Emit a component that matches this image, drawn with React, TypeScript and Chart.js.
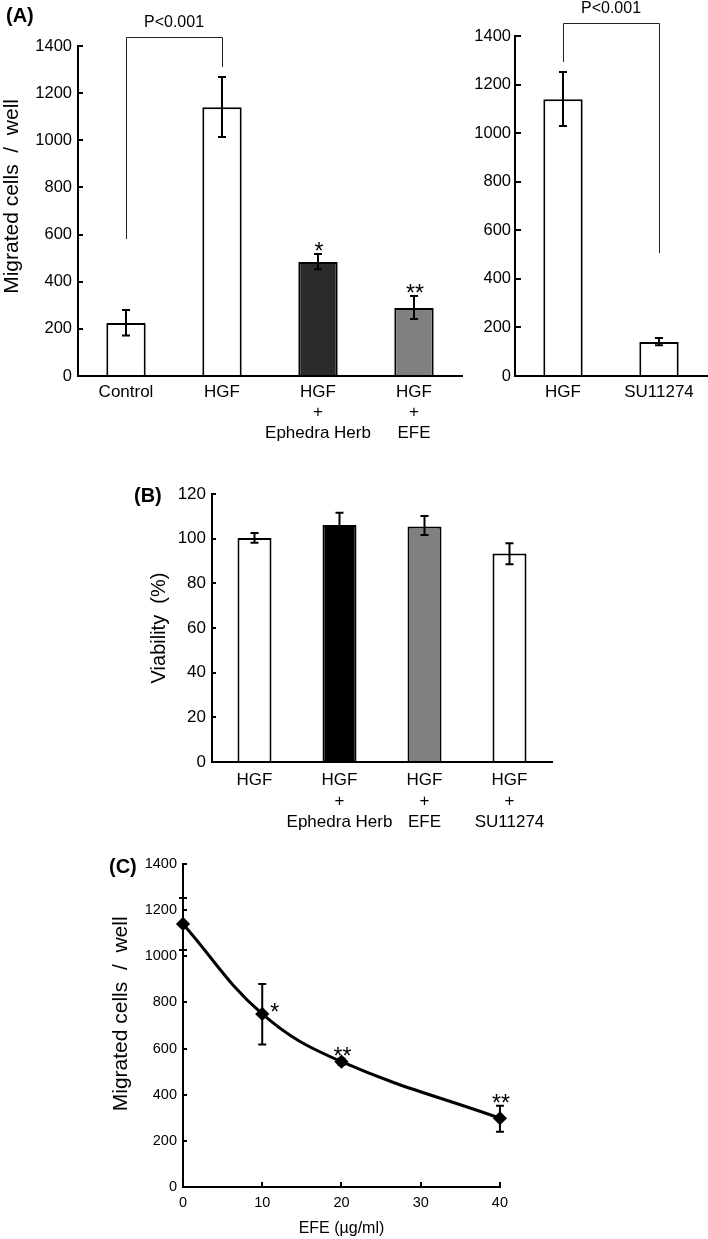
import React, { useEffect, useRef } from 'react';
import { Chart, registerables } from 'chart.js';

Chart.register(...registerables);

const FONT = '"Liberation Sans", Arial, Helvetica, sans-serif';
Chart.defaults.font.family = FONT;
Chart.defaults.color = '#000';

// ---------- Panel A (left): migration ----------
const migrationLabels = [['Control'], ['HGF'], ['HGF', '+', 'Ephedra Herb'], ['HGF', '+', 'EFE']];
const migrationValues = [225, 1140, 484, 288];
const migrationLow = [172, 1014, 453, 242];
const migrationHigh = [280, 1268, 518, 339];
const migrationColors = ['#ffffff', '#ffffff', '#2b2b2b', '#808080'];
const migrationStars = ['', '', '*', '**'];
const migrationBracket = { from: 0, to: 1, fromEnd: 581, toEnd: 1311, top: 1438, label: 'P<0.001' };

// ---------- Panel A (right): inhibitor ----------
const inhibitorLabels = ['HGF', 'SU11274'];
const inhibitorValues = [1140, 140];
const inhibitorLow = [1029, 127];
const inhibitorHigh = [1252, 156];
const inhibitorBracket = { from: 0, to: 1, fromEnd: 1293, toEnd: 506, top: 1453, label: 'P<0.001' };

const migrationMax = 1400;
const migrationStep = 200;

// ---------- Panel B: viability ----------
const viabilityLabels = [['HGF'], ['HGF', '+', 'Ephedra Herb'], ['HGF', '+', 'EFE'], ['HGF', '+', 'SU11274']];
const viabilityValues = [100.3, 106.1, 105.4, 93.4];
const viabilityLow = [98.2, 100.6, 101.6, 88.5];
const viabilityHigh = [102.5, 111.6, 110.1, 98.0];
const viabilityColors = ['#ffffff', '#000000', '#808080', '#ffffff'];
const viabilityMax = 120;
const viabilityStep = 20;

// ---------- Panel C: dose response ----------
const efeDoses = [0, 10, 20, 40];
const doseValues = [1140, 750, 543, 298];
const doseLow = [1027, 618, 530, 240];
const doseHigh = [1253, 880, 556, 352];
const doseStars = ['', '*', '**', '**'];
const doseStarSide = ['top', 'right', 'top', 'top'];
const doseMax = 40;
const doseStep = 10;

const plain = (v: any) => String(v);

function errorBarPlugin(capHalf: number, lineWidth: number) {
  return {
    id: 'errorBars',
    afterDatasetsDraw(chart: any) {
      const ctx = chart.ctx;
      chart.data.datasets.forEach((ds: any, di: number) => {
        if (!ds.errLow) return;
        const meta = chart.getDatasetMeta(di);
        const ys = chart.scales[meta.yAxisID];
        ctx.save();
        ctx.strokeStyle = '#000';
        ctx.lineWidth = lineWidth;
        meta.data.forEach((el: any, i: number) => {
          const x = el.x;
          const hi = ys.getPixelForValue(ds.errHigh[i]);
          const lo = ys.getPixelForValue(ds.errLow[i]);
          ctx.beginPath();
          ctx.moveTo(x, hi);
          ctx.lineTo(x, lo);
          ctx.moveTo(x - capHalf, hi);
          ctx.lineTo(x + capHalf, hi);
          ctx.moveTo(x - capHalf, lo);
          ctx.lineTo(x + capHalf, lo);
          ctx.stroke();
        });
        ctx.restore();
      });
    },
  };
}

function starPlugin(fontSize: number) {
  return {
    id: 'stars',
    afterDatasetsDraw(chart: any) {
      const ctx = chart.ctx;
      chart.data.datasets.forEach((ds: any, di: number) => {
        if (!ds.stars) return;
        const meta = chart.getDatasetMeta(di);
        const ys = chart.scales[meta.yAxisID];
        ctx.save();
        ctx.fillStyle = '#000';
        ctx.font = `${fontSize}px ${FONT}`;
        ctx.textBaseline = 'alphabetic';
        meta.data.forEach((el: any, i: number) => {
          const s = ds.stars[i];
          if (!s) return;
          const side = ds.starSide ? ds.starSide[i] : 'top';
          if (side === 'right') {
            ctx.textAlign = 'left';
            ctx.fillText(s, el.x + 8, el.y + 6);
          } else {
            ctx.textAlign = 'center';
            ctx.fillText(s, el.x + 1, ys.getPixelForValue(ds.errHigh[i]) + 5);
          }
        });
        ctx.restore();
      });
    },
  };
}

function bracketPlugin(b: any) {
  return {
    id: 'bracket',
    afterDraw(chart: any) {
      const ctx = chart.ctx;
      const xs = chart.scales.x;
      const ys = chart.scales.y;
      const x1 = xs.getPixelForValue(b.from);
      const x2 = xs.getPixelForValue(b.to);
      const yTop = ys.getPixelForValue(b.top);
      const y1 = ys.getPixelForValue(b.fromEnd);
      const y2 = ys.getPixelForValue(b.toEnd);
      ctx.save();
      ctx.strokeStyle = '#222';
      ctx.lineWidth = 1;
      ctx.beginPath();
      ctx.moveTo(Math.round(x1) + 0.5, y1);
      ctx.lineTo(Math.round(x1) + 0.5, Math.round(yTop) + 0.5);
      ctx.lineTo(Math.round(x2) + 0.5, Math.round(yTop) + 0.5);
      ctx.lineTo(Math.round(x2) + 0.5, y2);
      ctx.stroke();
      ctx.fillStyle = '#000';
      ctx.font = `16px ${FONT}`;
      ctx.textAlign = 'center';
      ctx.textBaseline = 'alphabetic';
      ctx.fillText(b.label, (x1 + x2) / 2, yTop - 10);
      ctx.restore();
    },
  };
}

const axisBorder = { display: true, color: '#000', width: 2 };
const inwardGrid = (len: number) => ({
  display: true,
  drawOnChartArea: false,
  drawTicks: true,
  tickLength: -len,
  color: '#000',
  lineWidth: 2,
});
const noGrid = { display: false, drawTicks: false };

function buildMigrationLeft(): any {
  return {
    type: 'bar',
    data: {
      labels: migrationLabels,
      datasets: [
        {
          data: migrationValues,
          backgroundColor: migrationColors,
          borderColor: '#000',
          borderWidth: 2,
          barPercentage: 0.41,
          categoryPercentage: 1,
          errLow: migrationLow,
          errHigh: migrationHigh,
          stars: migrationStars,
        },
      ],
    },
    options: {
      responsive: false,
      animation: false,
      layout: { padding: { left: 0, top: 46, right: 8, bottom: 0 } },
      plugins: { legend: { display: false }, tooltip: { enabled: false } },
      scales: {
        x: {
          grid: noGrid,
          border: axisBorder,
          ticks: { font: { size: 17, lineHeight: 1.2 }, color: '#000', padding: 6, maxRotation: 0, minRotation: 0, autoSkip: false },
          afterFit: (s: any) => { s.height = 69; },
        },
        y: {
          min: 0,
          max: migrationMax,
          ticks: { stepSize: migrationStep, font: { size: 16.5 }, color: '#000', padding: 11, callback: plain },
          grid: inwardGrid(5),
          border: axisBorder,
          title: { display: true, text: '     Migrated cells  /  well', font: { size: 21 }, color: '#000', padding: { top: 0, bottom: 0 } },
          afterFit: (s: any) => { s.width = 78; },
        },
      },
    },
    plugins: [errorBarPlugin(4, 2), starPlugin(23), bracketPlugin(migrationBracket)],
  };
}

function buildMigrationRight(): any {
  return {
    type: 'bar',
    data: {
      labels: inhibitorLabels,
      datasets: [
        {
          data: inhibitorValues,
          backgroundColor: '#ffffff',
          borderColor: '#000',
          borderWidth: 2,
          barPercentage: 0.41,
          categoryPercentage: 1,
          errLow: inhibitorLow,
          errHigh: inhibitorHigh,
        },
      ],
    },
    options: {
      responsive: false,
      animation: false,
      layout: { padding: { left: 0, top: 36, right: 1, bottom: 0 } },
      plugins: { legend: { display: false }, tooltip: { enabled: false } },
      scales: {
        x: {
          grid: noGrid,
          border: axisBorder,
          ticks: { font: { size: 17, lineHeight: 1.2 }, color: '#000', padding: 6, maxRotation: 0, minRotation: 0, autoSkip: false },
          afterFit: (s: any) => { s.height = 69; },
        },
        y: {
          min: 0,
          max: migrationMax,
          ticks: { stepSize: migrationStep, font: { size: 16.5 }, color: '#000', padding: 10, callback: plain },
          grid: inwardGrid(6),
          border: axisBorder,
          afterFit: (s: any) => { s.width = 45; },
        },
      },
    },
    plugins: [errorBarPlugin(4, 2), bracketPlugin(inhibitorBracket)],
  };
}

function buildViability(): any {
  return {
    type: 'bar',
    data: {
      labels: viabilityLabels,
      datasets: [
        {
          data: viabilityValues,
          backgroundColor: viabilityColors,
          borderColor: '#000',
          borderWidth: 2,
          barPercentage: 0.4,
          categoryPercentage: 1,
          errLow: viabilityLow,
          errHigh: viabilityHigh,
        },
      ],
    },
    options: {
      responsive: false,
      animation: false,
      layout: { padding: { left: 147, top: 34, right: 8, bottom: 0 } },
      plugins: { legend: { display: false }, tooltip: { enabled: false } },
      scales: {
        x: {
          grid: noGrid,
          border: axisBorder,
          ticks: { font: { size: 17, lineHeight: 1.22 }, color: '#000', padding: 8, maxRotation: 0, minRotation: 0, autoSkip: false },
          afterFit: (s: any) => { s.height = 78; },
        },
        y: {
          min: 0,
          max: viabilityMax,
          ticks: { stepSize: viabilityStep, font: { size: 17 }, color: '#000', padding: 10, callback: plain },
          grid: inwardGrid(4),
          border: axisBorder,
          title: { display: true, text: 'Viability  (%)', font: { size: 20 }, color: '#000', padding: { top: 0, bottom: 0 } },
          afterFit: (s: any) => { s.width = 65; },
        },
      },
    },
    plugins: [errorBarPlugin(4, 2)],
  };
}

function buildDose(): any {
  return {
    type: 'line',
    data: {
      datasets: [
        {
          data: efeDoses.map((x, i) => ({ x, y: doseValues[i] })),
          borderColor: '#000',
          borderWidth: 3,
          tension: 0.4,
          pointStyle: 'rectRot',
          pointRadius: 5,
          pointBackgroundColor: '#000',
          pointBorderColor: '#000',
          fill: false,
          clip: false,
          errLow: doseLow,
          errHigh: doseHigh,
          stars: doseStars,
          starSide: doseStarSide,
        },
      ],
    },
    options: {
      responsive: false,
      animation: false,
      layout: { padding: { left: 109, top: 24, right: 18, bottom: 1 } },
      plugins: { legend: { display: false }, tooltip: { enabled: false } },
      scales: {
        x: {
          type: 'linear',
          min: 0,
          max: doseMax,
          ticks: { stepSize: doseStep, font: { size: 14.5 }, color: '#000', padding: 12, callback: plain },
          grid: inwardGrid(5),
          border: axisBorder,
          title: { display: true, text: 'EFE (µg/ml)', font: { size: 16 }, color: '#000', padding: { top: 0, bottom: 0 } },
          afterFit: (s: any) => { s.height = 51; },
        },
        y: {
          min: 0,
          max: migrationMax,
          ticks: { stepSize: migrationStep, font: { size: 14.5 }, color: '#000', padding: 10, callback: plain },
          grid: inwardGrid(4),
          border: axisBorder,
          title: { display: true, text: '    Migrated cells  /  well', font: { size: 21 }, color: '#000', padding: { top: 0, bottom: 0 } },
          afterFit: (s: any) => { s.width = 74; },
        },
      },
    },
    plugins: [errorBarPlugin(4, 2), starPlugin(23)],
  };
}

function ChartBox(props: { left: number; top: number; width: number; height: number; build: () => any }) {
  const ref = useRef<HTMLCanvasElement | null>(null);
  useEffect(() => {
    if (!ref.current) return;
    const chart = new Chart(ref.current, props.build());
    return () => chart.destroy();
  }, []);
  return (
    <canvas
      ref={ref}
      width={props.width}
      height={props.height}
      style={{ position: 'absolute', left: props.left, top: props.top, width: props.width, height: props.height, display: 'block' }}
    />
  );
}

const letterStyle = (left: number, top: number): React.CSSProperties => ({
  position: 'absolute',
  left,
  top,
  fontFamily: FONT,
  fontWeight: 'bold',
  fontSize: 20,
  lineHeight: '20px',
  color: '#000',
});

export default function App() {
  return (
    <div style={{ position: 'absolute', left: 0, top: 0, width: 708, height: 1239, background: '#fff', overflow: 'hidden' }}>
      <ChartBox left={0} top={0} width={470} height={445} build={buildMigrationLeft} />
      <ChartBox left={470} top={0} width={238} height={445} build={buildMigrationRight} />
      <ChartBox left={0} top={460} width={560} height={380} build={buildViability} />
      <ChartBox left={0} top={840} width={520} height={399} build={buildDose} />
      <div style={letterStyle(6, 5)}>(A)</div>
      <div style={letterStyle(134, 485)}>(B)</div>
      <div style={letterStyle(109, 856)}>(C)</div>
    </div>
  );
}
